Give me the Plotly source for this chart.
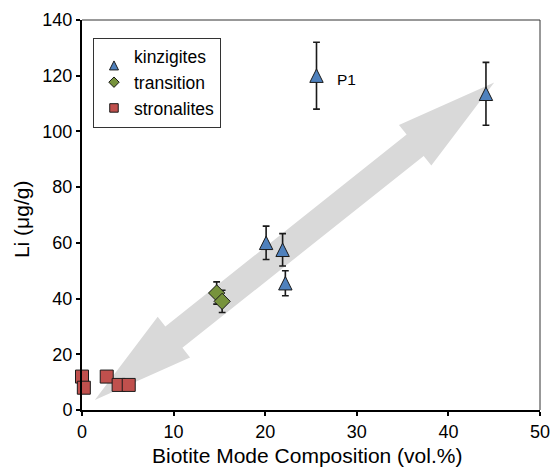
import math
import plotly.graph_objects as go

# ---- data ----
kinz_x = [25.6, 44.1, 20.1, 21.9, 22.2]
kinz_y = [120.0, 113.5, 60.0, 57.5, 45.5]
kinz_err = [12.0, 11.3, 6.0, 5.8, 4.5]

trans_x = [14.7, 15.3]
trans_y = [42.0, 39.0]
trans_err = [4.0, 4.0]

stron_x = [0.0, 0.2, 2.7, 4.0, 5.1]
stron_y = [12.0, 8.0, 12.0, 9.0, 9.0]

arrow_start = (1.4, 3.6)
arrow_end = (45.0, 117.6)

x_ticks = [0, 10, 20, 30, 40, 50]
y_ticks = [0, 20, 40, 60, 80, 100, 120, 140]

x_title = "Biotite Mode Composition (vol.%)"
y_title = "Li (μg/g)"

# ---- layout geometry ----
W, H = 552, 469
ML, MR, MT, MB = 82, 12, 20, 59
PW, PH = W - ML - MR, H - MT - MB
XR, YR = (0, 50), (0, 140)


def to_px(x, y):
    return ((x - XR[0]) / (XR[1] - XR[0]) * PW, (y - YR[0]) / (YR[1] - YR[0]) * PH)


def to_data(px, py):
    return (XR[0] + px / PW * (XR[1] - XR[0]), YR[0] + py / PH * (YR[1] - YR[0]))


# double-headed arrow polygon (computed in pixel space, y up)
head_len, head_hw, shaft_hw = 101.0, 26.0, 13.7
ax0, ay0 = to_px(*arrow_start)
ax1, ay1 = to_px(*arrow_end)
L = math.hypot(ax1 - ax0, ay1 - ay0)
ux, uy = (ax1 - ax0) / L, (ay1 - ay0) / L
nx, ny = -uy, ux


def pt(t, s):
    return (ax0 + ux * t + nx * s, ay0 + uy * t + ny * s)


poly = [
    pt(0, 0),
    pt(head_len, head_hw),
    pt(head_len, shaft_hw),
    pt(L - head_len, shaft_hw),
    pt(L - head_len, head_hw),
    pt(L, 0),
    pt(L - head_len, -head_hw),
    pt(L - head_len, -shaft_hw),
    pt(head_len, -shaft_hw),
    pt(head_len, -head_hw),
]
poly_d = [to_data(*p) for p in poly]
path = "M " + " L ".join(f"{x:.4f},{y:.4f}" for x, y in poly_d) + " Z"

FONT = "Arial, Liberation Sans, Helvetica, sans-serif"
edge = dict(color="#1a1a1a", width=1)
TRI = 13.4  # triangle marker size (px)

fig = go.Figure()

fig.add_trace(go.Scatter(
    x=kinz_x, y=kinz_y, mode="markers", showlegend=False,
    marker=dict(symbol="arrow-down", angle=180, size=TRI, standoff=TRI / 2,
                color="#4F81BD", line=edge),
    error_y=dict(type="data", array=kinz_err, color="#1a1a1a", thickness=1.6, width=3.4),
    cliponaxis=False,
))
fig.add_trace(go.Scatter(
    x=trans_x, y=trans_y, mode="markers", showlegend=False,
    marker=dict(symbol="diamond", size=12.5, color="#77933C", line=edge),
    error_y=dict(type="data", array=trans_err, color="#1a1a1a", thickness=1.6, width=3.4),
    cliponaxis=False,
))
fig.add_trace(go.Scatter(
    x=stron_x, y=stron_y, mode="markers", showlegend=False,
    marker=dict(symbol="square", size=13, color="#C0504D", line=edge),
    cliponaxis=False,
))

# legend entries
fig.add_trace(go.Scatter(x=[None], y=[None], mode="markers", name="kinzigites",
                         marker=dict(symbol="arrow-down", angle=180, size=9, standoff=4.5,
                                     color="#4F81BD", line=edge)))
fig.add_trace(go.Scatter(x=[None], y=[None], mode="markers", name="transition",
                         marker=dict(symbol="diamond", size=8, color="#77933C", line=edge)))
fig.add_trace(go.Scatter(x=[None], y=[None], mode="markers", name="stronalites",
                         marker=dict(symbol="square", size=8.5, color="#C0504D", line=edge)))

fig.add_shape(type="path", path=path, xref="x", yref="y",
              fillcolor="#D9D9D9", line=dict(width=0), layer="below")

# thin top/right frame
fig.add_shape(type="line", xref="paper", yref="paper", x0=0, x1=1, y0=1, y1=1,
              line=dict(color="#333333", width=1))
fig.add_shape(type="line", xref="paper", yref="paper", x0=1, x1=1, y0=0, y1=1,
              line=dict(color="#333333", width=1))

fig.add_annotation(x=27.6, y=118.5, text="P1", showarrow=False, xanchor="left",
                   font=dict(size=15.5, color="black", family=FONT))

# axis titles
fig.add_annotation(x=0.491, y=0, xref="paper", yref="paper", yshift=-45,
                   xanchor="center", yanchor="middle", showarrow=False,
                   text=x_title, font=dict(size=21, color="black", family=FONT))
fig.add_annotation(x=0, y=0.487, xref="paper", yref="paper", xshift=-61,
                   xanchor="center", yanchor="middle", showarrow=False, textangle=-90,
                   text=y_title, font=dict(size=21, color="black", family=FONT))

fig.update_layout(
    width=W, height=H,
    margin=dict(l=ML, r=MR, t=MT, b=MB, pad=0, autoexpand=False),
    paper_bgcolor="white", plot_bgcolor="white",
    font=dict(family=FONT, color="black"),
    showlegend=True,
    legend=dict(x=0.024, y=0.955, xanchor="left", yanchor="top",
                bgcolor="white", bordercolor="#333333", borderwidth=1,
                font=dict(size=17.5, family=FONT), tracegroupgap=0, itemsizing="trace",
                itemwidth=30),
    xaxis=dict(range=list(XR), tickvals=x_ticks, ticks="outside", ticklen=4, tickwidth=1.5,
               tickcolor="black", showline=True, linecolor="black", linewidth=2,
               showgrid=False, zeroline=False, tickfont=dict(size=18), automargin=False),
    yaxis=dict(range=list(YR), tickvals=y_ticks, ticks="outside", ticklen=4, tickwidth=1.5,
               tickcolor="black", showline=True, linecolor="black", linewidth=2,
               showgrid=False, zeroline=False, tickfont=dict(size=18), automargin=False),
)

fig.write_html("out.html")
